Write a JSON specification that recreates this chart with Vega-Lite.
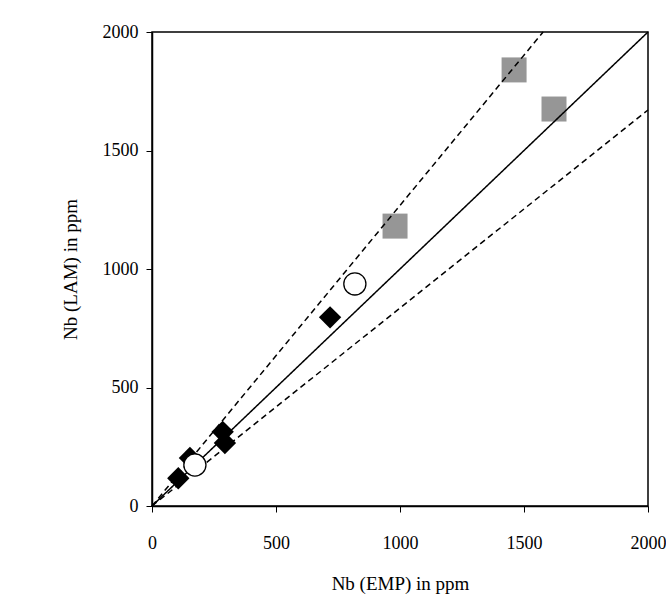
{
  "$schema": "https://vega.github.io/schema/vega-lite/v6.json",
  "width": 496,
  "height": 474,
  "autosize": {"type": "none"},
  "padding": {"left": 152, "top": 32, "right": 18, "bottom": 95},
  "background": "white",
  "datasets": {
    "pts": [
      {"type": "A", "emp": 106, "lam": 117},
      {"type": "A", "emp": 153, "lam": 203},
      {"type": "A", "emp": 285, "lam": 313},
      {"type": "A", "emp": 294, "lam": 266},
      {"type": "A", "emp": 718, "lam": 796},
      {"type": "B", "emp": 173, "lam": 173},
      {"type": "B", "emp": 818, "lam": 937},
      {"type": "C", "emp": 980, "lam": 1181},
      {"type": "C", "emp": 1460, "lam": 1840},
      {"type": "C", "emp": 1621, "lam": 1675}
    ],
    "lines": [
      {"line": "one", "emp": 0, "lam": 0},
      {"line": "one", "emp": 2000, "lam": 2000},
      {"line": "upper", "emp": 0, "lam": 0},
      {"line": "upper", "emp": 1577, "lam": 2000},
      {"line": "lower", "emp": 0, "lam": 0},
      {"line": "lower", "emp": 2000, "lam": 1671}
    ]
  },
  "config": {
    "view": {"stroke": "black", "strokeWidth": 1.5},
    "font": "Liberation Serif",
    "axis": {
      "grid": false,
      "domainColor": "black",
      "domainWidth": 1.5,
      "tickColor": "black",
      "tickSize": 6,
      "labelFont": "Liberation Serif",
      "labelFontSize": 18,
      "labelColor": "black",
      "titleFont": "Liberation Serif",
      "titleFontSize": 19,
      "titleFontWeight": "normal",
      "titleColor": "black"
    }
  },
  "encoding": {
    "x": {
      "field": "emp", "type": "quantitative",
      "scale": {"domain": [0, 2000], "nice": false},
      "axis": {"values": [0, 500, 1000, 1500, 2000], "format": "d", "title": "Nb (EMP) in ppm", "labelPadding": 22, "titlePadding": 22, "labelFlush": false}
    },
    "y": {
      "field": "lam", "type": "quantitative",
      "scale": {"domain": [0, 2000], "nice": false},
      "axis": {"values": [0, 500, 1000, 1500, 2000], "format": "d", "title": "Nb (LAM) in ppm", "labelPadding": 8, "titlePadding": 22, "labelFlush": false}
    }
  },
  "layer": [
    {
      "data": {"name": "pts"},
      "transform": [{"filter": "datum.type === 'C'"}],
      "mark": {"type": "point", "shape": "square", "filled": true, "color": "#969696", "opacity": 1, "size": 625}
    },
    {
      "data": {"name": "lines"},
      "mark": {"type": "line", "color": "black", "strokeWidth": 1.5},
      "encoding": {
        "detail": {"field": "line"},
        "strokeDash": {
          "field": "line", "type": "nominal",
          "scale": {"domain": ["one", "upper", "lower"], "range": [[1, 0], [6, 4], [6, 4]]},
          "legend": null
        }
      }
    },
    {
      "data": {"name": "pts"},
      "transform": [{"filter": "datum.type === 'A'"}],
      "mark": {"type": "point", "shape": "diamond", "filled": true, "color": "black", "opacity": 1, "size": 500}
    },
    {
      "data": {"name": "pts"},
      "transform": [{"filter": "datum.type === 'B'"}],
      "mark": {"type": "point", "shape": "circle", "filled": true, "fill": "white", "stroke": "black", "strokeWidth": 1.3, "opacity": 1, "size": 490}
    }
  ]
}
